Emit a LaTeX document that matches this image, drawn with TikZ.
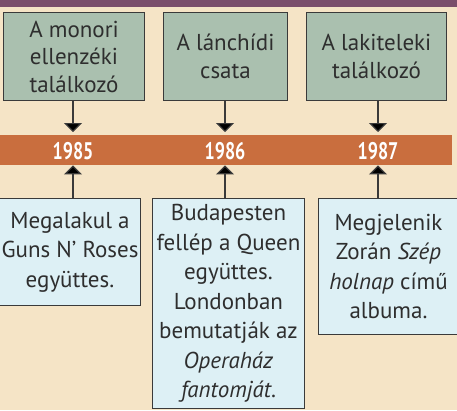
\documentclass[tikz,border=0pt]{standalone}
\usepackage{fontspec}
\setmainfont{PT Sans}
\newfontfamily\yearfont[FakeStretch=0.75]{PT Sans Bold}
\usetikzlibrary{arrows.meta}
\definecolor{bgc}{HTML}{F5E4C6}
\definecolor{topbar}{HTML}{7A4E6B}
\definecolor{barc}{HTML}{C96E3E}
\definecolor{greenbox}{HTML}{AAC0AF}
\definecolor{bluebox}{HTML}{DDF0F5}
\definecolor{linec}{HTML}{3A3A3A}
\definecolor{txt}{HTML}{2E2E2E}
\tikzset{
  topbox/.style={draw=linec, line width=1pt, fill=greenbox, anchor=north west, align=center, text=txt,
    font=\fontsize{23}{27.5}\selectfont, inner sep=0pt},
  botbox/.style={draw=linec, line width=1pt, fill=bluebox, anchor=north west, align=center, text=txt,
    font=\fontsize{23}{29.5}\selectfont, inner sep=0pt},
  yearlbl/.style={text=white, font=\fontsize{24}{26}\selectfont\yearfont, inner sep=0pt},
  conn/.style={draw=linec, line width=1.2pt, -{Triangle[width=18pt,length=9pt,fill=black]}}
}
\begin{document}
\begin{tikzpicture}[x=1pt,y=-1pt]
\fill[bgc] (0,0) rectangle (457,410);
\useasboundingbox (0,0) rectangle (457,410);
\fill[topbar] (0,0) rectangle (457,7);
% timeline bar
\node[fill=barc, minimum width=452pt, minimum height=30pt, inner sep=0pt, anchor=north west] (bar) at (0,135) {};
\node[yearlbl] (y1) at (73,151) {1985};
\node[yearlbl] (y2) at (225,151) {1986};
\node[yearlbl] (y3) at (378,151) {1987};
% top boxes
\node[topbox, minimum width=141pt, minimum height=88pt] (t1) at (3,12) {A monori\\ellenzéki\\találkozó};
\node[topbox, minimum width=124pt, minimum height=88pt] (t2) at (163,12) {A lánchídi\\csata};
\node[topbox, minimum width=140pt, minimum height=88pt] (t3) at (306,12) {A lakiteleki\\találkozó};
% bottom boxes
\node[botbox, minimum width=141pt, minimum height=107pt] (b1) at (-1,198) {Megalakul a\\Guns N’ Roses\\együttes.};
\node[botbox, minimum width=152pt, minimum height=210pt] (b2) at (152,198) {Budapesten\\fellép a Queen\\együttes.\\Londonban\\bemutatják az\\\textit{Operaház}\\\textit{fantomját}.};
\node[botbox, minimum width=140pt, minimum height=136pt] (b3) at (318,198) {Megjelenik\\Zorán \textit{Szép}\\\textit{holnap} című\\albuma.};
% connectors
\draw[conn] (t1.south -| y1) -- ([yshift=3pt]bar.north -| y1);
\draw[conn] (t2.south -| y2) -- ([yshift=3pt]bar.north -| y2);
\draw[conn] (t3.south -| y3) -- ([yshift=3pt]bar.north -| y3);
\draw[conn] (b1.north -| y1) -- (bar.south -| y1);
\draw[conn] (b2.north -| y2) -- (bar.south -| y2);
\draw[conn] (b3.north -| y3) -- (bar.south -| y3);
\end{tikzpicture}
\end{document}
